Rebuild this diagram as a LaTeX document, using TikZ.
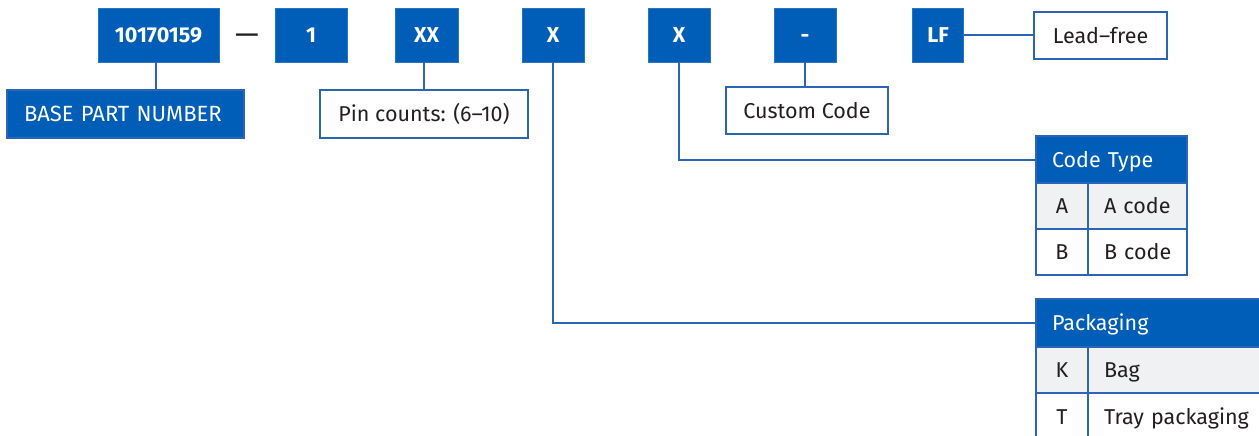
\documentclass[tikz,border=0pt]{standalone}
\usepackage{fontspec}
\setmainfont{Fira Sans}
\definecolor{cblue}{HTML}{005EB8}
\definecolor{cline}{HTML}{2B65B5}
\definecolor{ctext}{HTML}{231F20}
\definecolor{crow}{HTML}{F0F1F3}
\tikzset{
  capfit/.style={text height=15pt, text depth=0pt},
  topbox/.style={fill=cblue, draw=cblue!85!white, line width=0.8pt, text=white, inner sep=0pt,
    font=\bfseries\fontsize{21.5}{21.5}\selectfont, minimum height=54pt, text height=15pt, text depth=0pt},
  labelbox/.style={fill=white, draw=cline, line width=2pt, text=ctext, inner sep=0pt,
    font=\fontsize{21.5}{21.5}\selectfont, capfit},
  bluelabel/.style={fill=cblue, draw=cline, line width=2pt, text=white, inner sep=0pt,
    font=\fontsize{22}{22}\selectfont, capfit},
  cell/.style={draw=cline, line width=2pt, text=ctext, inner sep=0pt,
    font=\fontsize{21.5}{21.5}\selectfont, capfit},
  hdr/.style={fill=cblue, draw=cline, line width=2pt, text=white, inner sep=0pt,
    font=\fontsize{21.5}{21.5}\selectfont, capfit},
  conn/.style={draw=cline, line width=2pt},
}
\begin{document}
\begin{tikzpicture}[x=1pt,y=-1pt]
\useasboundingbox (0,0) rectangle (1259,436);
\begin{scope}
\clip (0,0) rectangle (1259,436);
% top code boxes
\node[topbox, minimum width=121pt] (n1) at (158.5,35) {10170159};
\node[text=ctext, font=\fontsize{30}{30}\selectfont, inner sep=0pt] (dash) at (247,39) {\textemdash};
\node[topbox, minimum width=72pt] (n2) at (311,35) {1};
\node[topbox, minimum width=63pt] (n3) at (426.5,35) {XX};
\node[topbox, minimum width=62pt] (n4) at (553,35) {X};
\node[topbox, minimum width=62pt] (n5) at (679,35) {X};
\node[topbox, minimum width=62pt] (n6) at (805,35) {-};
\node[topbox, minimum width=51pt] (n7) at (938,35) {LF};
% label boxes
\node[bluelabel, minimum width=237pt, minimum height=48pt, text width=203pt, align=left] (base) at (125.5,114) {\mbox{BASE PART NUMBER}};
\node[labelbox, minimum width=208pt, minimum height=48pt] (pin) at (424,114) {Pin counts: (6–10)};
\node[labelbox, minimum width=162pt, minimum height=47pt] (cust) at (807,110.5) {Custom Code};
\node[labelbox, minimum width=133pt, minimum height=47pt] (lead) at (1100.5,36) {Lead–free};
% Code Type table
\node[hdr, minimum width=151pt, minimum height=47pt, anchor=north west, text width=119pt, align=left] (cth) at (1035,135) {\mbox{Code Type}};
\node[cell, fill=crow, minimum width=52pt, minimum height=46pt, anchor=north west] (ca1) at (1035,182) {A};
\node[cell, fill=crow, minimum width=99pt, minimum height=46pt, anchor=north west, text width=67pt, align=left] (ca2) at (1087,182) {\mbox{A code}};
\node[cell, fill=white, minimum width=52pt, minimum height=46pt, anchor=north west] (cb1) at (1035,228) {B};
\node[cell, fill=white, minimum width=99pt, minimum height=46pt, anchor=north west, text width=67pt, align=left] (cb2) at (1087,228) {\mbox{B code}};
% Packaging table
\node[hdr, minimum width=232pt, minimum height=48pt, anchor=north west, text width=200pt, align=left] (pkh) at (1035,298) {\mbox{Packaging}};
\node[cell, fill=crow, minimum width=52pt, minimum height=46pt, anchor=north west] (pk1) at (1035,346) {K};
\node[cell, fill=crow, minimum width=180pt, minimum height=46pt, anchor=north west, text width=148pt, align=left] (pk2) at (1087,346) {\mbox{Bag}};
\node[cell, fill=white, minimum width=52pt, minimum height=48pt, anchor=north west] (pt1) at (1035,392) {T};
\node[cell, fill=white, minimum width=180pt, minimum height=48pt, anchor=north west, text width=148pt, align=left] (pt2) at (1087,392) {\mbox{Tray packaging}};
% connectors
\draw[conn] (n1.south -| 156,0) -- (156,90);
\draw[conn] (n3.south -| pin.north) -- (pin.north);
\draw[conn] (n6.south) -- (n6.south |- cust.north);
\draw[conn] (n7.east) -- (n7.east -| lead.west);
\draw[conn] (n5.south) |- (cth.west);
\draw[conn] (n4.south) |- (pkh.west);
\end{scope}
\end{tikzpicture}
\end{document}
